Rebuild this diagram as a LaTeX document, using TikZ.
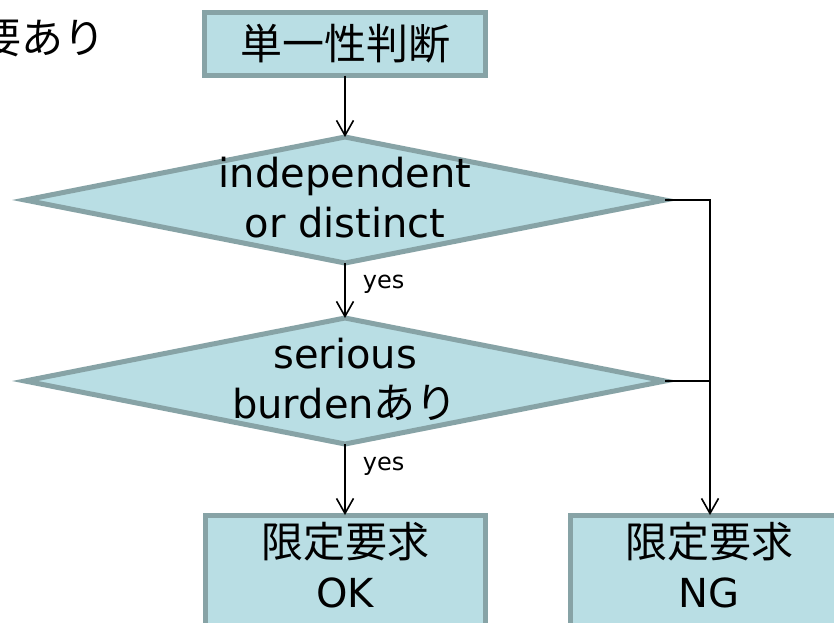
\documentclass[tikz,border=0pt]{standalone}
\usepackage{fontspec}
\setmainfont{DejaVu Sans}
\newfontfamily\jp[Scale=1.05]{Noto Sans CJK JP}
\usetikzlibrary{shapes.geometric,arrows.meta}
\definecolor{boxfill}{RGB}{185,222,228}
\definecolor{boxline}{RGB}{135,163,166}
\tikzset{
  x=1pt,y=-1pt,
  flowbox/.style={draw=boxline,fill=boxfill,line width=5pt,rectangle,inner sep=0pt,outer sep=0pt},
  decision/.style={draw=boxline,fill=boxfill,line width=5pt,diamond,inner sep=0pt,outer sep=0pt,
    minimum width=640pt,minimum height=126pt},
  bigtext/.style={font=\fontsize{40}{50}\selectfont,align=center,inner sep=0pt,text=black},
  yeslbl/.style={font=\fontsize{24}{27}\selectfont,inner sep=0pt,anchor=west},
  conn/.style={draw=black,line width=1.6pt},
  arr/.style={conn,-{Straight Barb[length=15pt,width=17pt,line width=1.6pt]}}
}
\begin{document}
\begin{tikzpicture}
\clip (0,0) rectangle (834,622);
\fill[white] (0,0) rectangle (834,622);
% top-left text (cut at left edge)
\node[bigtext,anchor=east] (hdr) at (106,38) {\jp 要あり};
% top box
\node[flowbox,minimum width=281pt,minimum height=63pt] (t) at (345,44) {};
\node[bigtext] (tt) at (t) {\jp 単一性判断};
% decisions
\node[decision] (d1) at (345,200) {};
\node[bigtext] (d1t) at (345,198) {independent\\ or distinct};
\node[decision] (d2) at (345,381) {};
\node[bigtext] (d2t) at (345,379) {serious\\burden{\jp あり}};
% bottom boxes
\node[flowbox,minimum width=280pt,minimum height=140pt,anchor=north] (ok) at (345,515) {};
\node[bigtext] (okt) at (345,565) {{\jp 限定要求}\\OK};
\node[flowbox,minimum width=280pt,minimum height=140pt,anchor=north] (ng) at (710,515) {};
\node[bigtext] (ngt) at (709,565) {{\jp 限定要求}\\NG};
% connectors
\draw[arr] (t.south) -- (d1.north);
\draw[arr] (d1.south) -- node[yeslbl,pos=0.38,xshift=17pt] (y1) {yes} (d2.north);
\draw[arr] (d2.south) -- node[yeslbl,pos=0.32,xshift=17pt] (y2) {yes} (ok.north);
\draw[arr] (d1.east) -| (ng.north);
\draw[conn] (d2.east) -- (d2.east -| ng.north);
\end{tikzpicture}
\end{document}
